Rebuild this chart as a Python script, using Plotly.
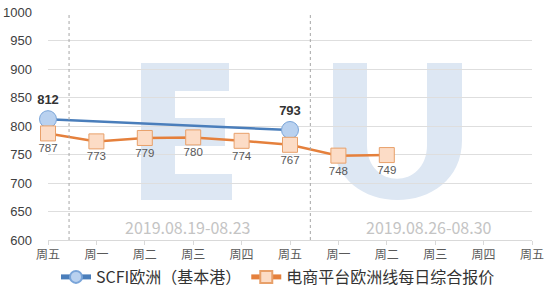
import plotly.graph_objects as go

# ---- data ----
categories = ["周五", "周一", "周二", "周三", "周四", "周五", "周一", "周二", "周三", "周四", "周五"]
x_idx = list(range(len(categories)))
scfi_x = [0, 5]
scfi_values = [812, 793]
ecom_x = [0, 1, 2, 3, 4, 5, 6, 7]
ecom_values = [787, 773, 779, 780, 774, 767, 748, 749]
series_names = ["SCFI欧洲（基本港）", "电商平台欧洲线每日综合报价"]
week_labels = ["2019.08.19-08.23", "2019.08.26-08.30"]
week_label_pos = [(2.88, 623), (7.87, 623)]
week_dividers = [0.435, 5.42]

W, H = 556, 288
ML, MR, MT, MB = 48, 24, 12, 48
PW, PH = W - ML - MR, H - MT - MB


def px(xp, yp):
    return (xp - ML) / PW, (H - MB - yp) / PH


def path(cmds):
    out = []
    for c in cmds:
        if c == "Z":
            out.append("Z")
            continue
        op, pts = c[0], c[1:]
        s = op
        for (a, b) in pts:
            u, v = px(a, b)
            s += f" {u:.4f},{v:.4f}"
        out.append(s)
    return " ".join(out)


WM = "#dde7f3"
shapes = []
# watermark "E"
for (x0, y0, x1, y1) in [(141, 63, 175, 200), (141, 63, 229, 91), (141, 118, 225, 146), (141, 174, 232, 200)]:
    a, b = px(x0, y1)
    c, d = px(x1, y0)
    shapes.append(dict(type="rect", xref="paper", yref="paper", x0=a, y0=b, x1=c, y1=d,
                       fillcolor=WM, line=dict(width=0), layer="below"))
# watermark "U"
u_path = path([
    ("M", (333, 63)), ("L", (367, 63)), ("L", (367, 145)),
    ("C", (367, 190), (427, 190), (427, 145)),
    ("L", (427, 63)), ("L", (462, 63)), ("L", (462, 140)),
    ("C", (462, 220), (333, 220), (333, 140)), "Z",
])
shapes.append(dict(type="path", xref="paper", yref="paper", path=u_path,
                   fillcolor=WM, line=dict(width=0), layer="below"))

for xv in week_dividers:
    shapes.append(dict(type="line", xref="x", yref="paper", x0=xv, x1=xv, y0=0, y1=1,
                       line=dict(color="#a6a6a6", width=1, dash="dot")))

fig = go.Figure()
fig.add_trace(go.Scatter(
    x=scfi_x, y=scfi_values, name=series_names[0], mode="lines+markers+text",
    line=dict(color="#4a7ebb", width=2.5),
    marker=dict(symbol="circle", size=17, color="#b9d1ef", line=dict(color="#7aa5d9", width=1)),
    text=[str(v) for v in scfi_values], textposition="top center",
    textfont=dict(family="Liberation Sans", size=13, color="#333333", weight="bold"),
    cliponaxis=False,
))
fig.add_trace(go.Scatter(
    x=ecom_x, y=ecom_values, name=series_names[1], mode="lines+markers+text",
    line=dict(color="#e5803c", width=2.5),
    marker=dict(symbol="square", size=15, color="#fcdcc6", line=dict(color="#e8a06a", width=1)),
    text=[str(v) for v in ecom_values], textposition="bottom center",
    textfont=dict(family="Liberation Sans", size=11.5, color="#595959"),
    cliponaxis=False,
))

annotations = []
for lbl, (xv, yv) in zip(week_labels, week_label_pos):
    annotations.append(dict(x=xv, y=yv, xref="x", yref="y", text=lbl, showarrow=False,
                            font=dict(family="Noto Sans CJK SC", size=16, color="#c4c4c4")))

fig.update_layout(
    width=W, height=H,
    margin=dict(l=ML, r=MR, t=MT, b=MB, autoexpand=False),
    paper_bgcolor="white", plot_bgcolor="white",
    shapes=shapes, annotations=annotations,
    showlegend=True,
    legend=dict(orientation="h", x=0.5, xanchor="center", xref="container",
                y=(H - 277) / H, yanchor="middle", yref="container",
                font=dict(family="Noto Sans CJK SC", size=16, color="#333333"),
                itemwidth=30, tracegroupgap=0, itemsizing="constant"),
    xaxis=dict(
        range=[0, 10], tickmode="array", tickvals=x_idx, ticktext=categories,
        showgrid=False, zeroline=False, showline=True, linecolor="#d9d9d9", linewidth=1,
        ticks="outside", ticklen=4, tickcolor="#d9d9d9", automargin=False,
        tickfont=dict(family="Noto Sans CJK SC", size=12, color="#595959"),
    ),
    yaxis=dict(
        range=[600, 1000], dtick=50, tick0=600, automargin=False,
        showgrid=True, gridcolor="#dedede", gridwidth=1, zeroline=False, showline=False,
        ticks="", ticklabelstandoff=15,
        tickfont=dict(family="Liberation Sans", size=13, color="#404040"),
    ),
)

fig.write_html("out.html")
